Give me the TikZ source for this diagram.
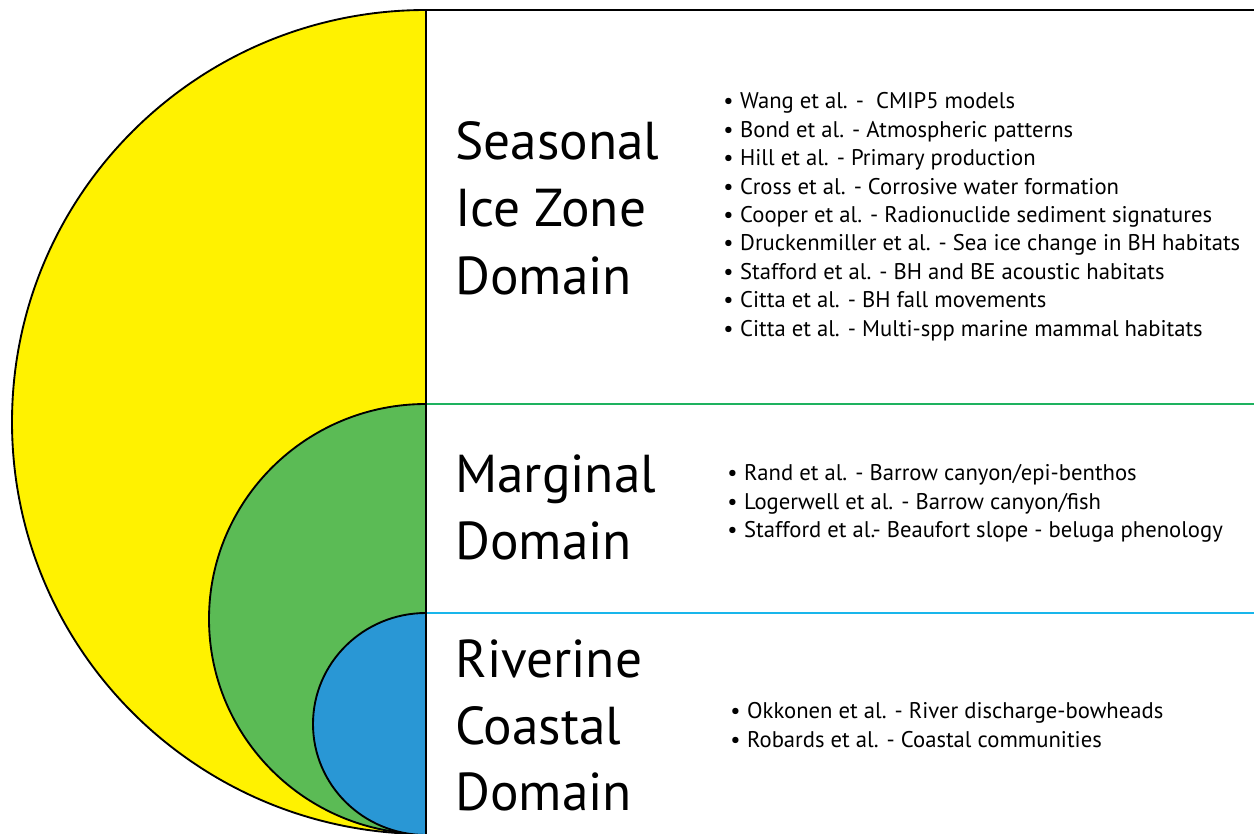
\documentclass[tikz,border=0pt]{standalone}
\usepackage{fontspec}
\setmainfont{PT Sans}
\definecolor{zyellow}{RGB}{255,242,0}
\definecolor{zgreen}{RGB}{91,187,85}
\definecolor{zblue}{RGB}{41,151,213}
\definecolor{lgreen}{RGB}{30,178,95}
\definecolor{lblue}{RGB}{25,182,235}
\begin{document}
\begin{tikzpicture}[x=0.75pt,y=0.75pt,
  big/.style={anchor=base west, inner sep=0pt, font=\fontsize{40}{48}\selectfont},
  item/.style={anchor=base west, inner sep=0pt, font=\fontsize{17}{20}\selectfont},
  outline/.style={draw=black, line width=1.4pt},
  sep/.style={line width=2pt}]
\useasboundingbox (0,0) rectangle (1254,833);
% domains
\path[fill=zyellow, outline] (426,823) arc[start angle=90, end angle=270, x radius=414, y radius=412] -- cycle;
\path[fill=zgreen, outline] (426,429) arc[start angle=90, end angle=270, x radius=217, y radius=215] -- cycle;
\path[fill=zblue, outline] (426,220) arc[start angle=90, end angle=270, x radius=113, y radius=111] -- cycle;
% separators
\draw[sep, lgreen] (427,429) -- (1254,429);
\draw[sep, lblue] (427,220) -- (1254,220);
\draw[sep, black] (426,0) -- (426,823) -- (1254,823);
% titles
\node[big] (t1) at (455,673) {Seasonal};
\node[big] (t2) at (455,606) {Ice Zone};
\node[big] (t3) at (455,538) {Domain};
\node[big] (t4) at (455,340) {Marginal};
\node[big] (t5) at (455,273) {Domain};
\node[big] (t6) at (455,156) {Riverine};
\node[big] (t7) at (455,89) {Coastal};
\node[big] (t8) at (455,23) {Domain};
% lists
\foreach \t [count=\i from 0] in {{Wang et al. -\ \ CMIP5 models},{Bond et al. - Atmospheric patterns},{Hill et al. - Primary production},{Cross et al. - Corrosive water formation},{Cooper et al. - Radionuclide sediment signatures},{Druckenmiller et al. - Sea ice change in BH habitats},{Stafford et al. - BH and BE acoustic habitats},{Citta et al. - BH fall movements},{Citta et al. - Multi-spp marine mammal habitats}}
  \node[item] (s\i) at (723,724-28.4*\i) {•\hspace{5pt}\t};
\foreach \t [count=\i from 0] in {{Rand et al. - Barrow canyon/epi-benthos},{Logerwell et al. - Barrow canyon/fish},{Stafford et al.- Beaufort slope - beluga phenology}}
  \node[item] (m\i) at (727,352-28.5*\i) {•\hspace{5pt}\t};
\foreach \t [count=\i from 0] in {{Okkonen et al. - River discharge-bowheads},{Robards et al. - Coastal communities}}
  \node[item] (r\i) at (730,115-29*\i) {•\hspace{5pt}\t};
\end{tikzpicture}
\end{document}
